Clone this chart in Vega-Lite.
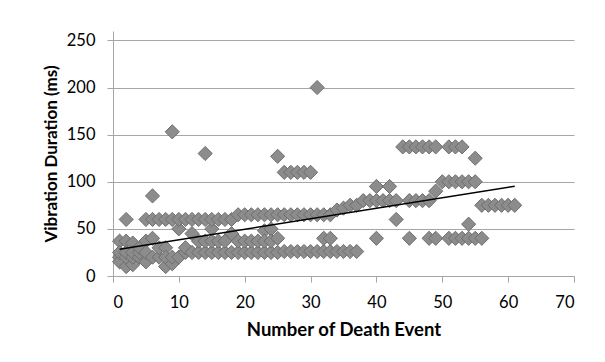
{
  "$schema": "https://vega.github.io/schema/vega-lite/v6.json",
  "autosize": {"type": "none"},
  "width": 461,
  "height": 245,
  "padding": {"left": 113, "top": 31, "right": 31, "bottom": 86},
  "background": "white",
  "config": {
    "view": {"stroke": null},
    "font": "Lato",
    "axis": {
      "labelFont": "Lato",
      "labelFontSize": 16.5,
      "labelColor": "#000000",
      "titleFont": "Lato",
      "titleFontWeight": "bold",
      "titleColor": "#000000",
      "domainColor": "#a6a6a6",
      "tickColor": "#a6a6a6",
      "gridColor": "#a6a6a6",
      "tickSize": 6
    }
  },
  "datasets": {
    "points": [
      {"event": 1, "duration": 20}, {"event": 1, "duration": 15}, {"event": 1, "duration": 37}, {"event": 1, "duration": 25},
      {"event": 2, "duration": 10}, {"event": 2, "duration": 20}, {"event": 2, "duration": 37}, {"event": 2, "duration": 60}, {"event": 2, "duration": 25},
      {"event": 3, "duration": 12}, {"event": 3, "duration": 20}, {"event": 3, "duration": 35}, {"event": 3, "duration": 25},
      {"event": 4, "duration": 20}, {"event": 4, "duration": 25}, {"event": 4, "duration": 30},
      {"event": 5, "duration": 15}, {"event": 5, "duration": 37}, {"event": 5, "duration": 60}, {"event": 5, "duration": 25},
      {"event": 6, "duration": 20}, {"event": 6, "duration": 40}, {"event": 6, "duration": 60}, {"event": 6, "duration": 85},
      {"event": 7, "duration": 20}, {"event": 7, "duration": 30}, {"event": 7, "duration": 60},
      {"event": 8, "duration": 10}, {"event": 8, "duration": 30}, {"event": 8, "duration": 60}, {"event": 8, "duration": 20},
      {"event": 9, "duration": 13}, {"event": 9, "duration": 20}, {"event": 9, "duration": 153}, {"event": 9, "duration": 60},
      {"event": 10, "duration": 20}, {"event": 10, "duration": 50}, {"event": 10, "duration": 60},
      {"event": 11, "duration": 25}, {"event": 11, "duration": 30}, {"event": 11, "duration": 60},
      {"event": 12, "duration": 25}, {"event": 12, "duration": 45}, {"event": 12, "duration": 60},
      {"event": 13, "duration": 25}, {"event": 13, "duration": 37}, {"event": 13, "duration": 60},
      {"event": 14, "duration": 25}, {"event": 14, "duration": 37}, {"event": 14, "duration": 130}, {"event": 14, "duration": 60},
      {"event": 15, "duration": 25}, {"event": 15, "duration": 50}, {"event": 15, "duration": 60}, {"event": 15, "duration": 37},
      {"event": 16, "duration": 25}, {"event": 16, "duration": 37}, {"event": 16, "duration": 60},
      {"event": 17, "duration": 25}, {"event": 17, "duration": 37}, {"event": 17, "duration": 60},
      {"event": 18, "duration": 25}, {"event": 18, "duration": 45}, {"event": 18, "duration": 60},
      {"event": 19, "duration": 25}, {"event": 19, "duration": 37}, {"event": 19, "duration": 65},
      {"event": 20, "duration": 25}, {"event": 20, "duration": 37}, {"event": 20, "duration": 65},
      {"event": 21, "duration": 25}, {"event": 21, "duration": 37}, {"event": 21, "duration": 65},
      {"event": 22, "duration": 25}, {"event": 22, "duration": 37}, {"event": 22, "duration": 65},
      {"event": 23, "duration": 25}, {"event": 23, "duration": 48}, {"event": 23, "duration": 65}, {"event": 23, "duration": 37},
      {"event": 24, "duration": 25}, {"event": 24, "duration": 50}, {"event": 24, "duration": 65}, {"event": 24, "duration": 37},
      {"event": 25, "duration": 25}, {"event": 25, "duration": 40}, {"event": 25, "duration": 65}, {"event": 25, "duration": 127},
      {"event": 26, "duration": 26}, {"event": 26, "duration": 65}, {"event": 26, "duration": 110},
      {"event": 27, "duration": 26}, {"event": 27, "duration": 65}, {"event": 27, "duration": 110},
      {"event": 28, "duration": 26}, {"event": 28, "duration": 65}, {"event": 28, "duration": 110},
      {"event": 29, "duration": 26}, {"event": 29, "duration": 65}, {"event": 29, "duration": 110},
      {"event": 30, "duration": 26}, {"event": 30, "duration": 65}, {"event": 30, "duration": 110},
      {"event": 31, "duration": 26}, {"event": 31, "duration": 65}, {"event": 31, "duration": 200},
      {"event": 32, "duration": 26}, {"event": 32, "duration": 40}, {"event": 32, "duration": 65},
      {"event": 33, "duration": 26}, {"event": 33, "duration": 40}, {"event": 33, "duration": 65},
      {"event": 34, "duration": 26}, {"event": 34, "duration": 70},
      {"event": 35, "duration": 26}, {"event": 35, "duration": 72},
      {"event": 36, "duration": 26}, {"event": 36, "duration": 75},
      {"event": 37, "duration": 26}, {"event": 37, "duration": 75},
      {"event": 38, "duration": 80},
      {"event": 39, "duration": 80},
      {"event": 40, "duration": 40}, {"event": 40, "duration": 80}, {"event": 40, "duration": 95},
      {"event": 41, "duration": 80},
      {"event": 42, "duration": 80}, {"event": 42, "duration": 95},
      {"event": 43, "duration": 60}, {"event": 43, "duration": 80},
      {"event": 44, "duration": 137},
      {"event": 45, "duration": 40}, {"event": 45, "duration": 80}, {"event": 45, "duration": 137},
      {"event": 46, "duration": 80}, {"event": 46, "duration": 137},
      {"event": 47, "duration": 80}, {"event": 47, "duration": 137},
      {"event": 48, "duration": 40}, {"event": 48, "duration": 80}, {"event": 48, "duration": 137},
      {"event": 49, "duration": 40}, {"event": 49, "duration": 90}, {"event": 49, "duration": 137},
      {"event": 50, "duration": 100},
      {"event": 51, "duration": 40}, {"event": 51, "duration": 100}, {"event": 51, "duration": 137},
      {"event": 52, "duration": 40}, {"event": 52, "duration": 100}, {"event": 52, "duration": 137},
      {"event": 53, "duration": 40}, {"event": 53, "duration": 100}, {"event": 53, "duration": 137},
      {"event": 54, "duration": 40}, {"event": 54, "duration": 55}, {"event": 54, "duration": 100},
      {"event": 55, "duration": 40}, {"event": 55, "duration": 100}, {"event": 55, "duration": 125},
      {"event": 56, "duration": 40}, {"event": 56, "duration": 75},
      {"event": 57, "duration": 75},
      {"event": 58, "duration": 75},
      {"event": 59, "duration": 75},
      {"event": 60, "duration": 75},
      {"event": 61, "duration": 75}
    ],
    "trend": [
      {"event": 1, "duration": 28.5},
      {"event": 61, "duration": 95.3}
    ]
  },
  "layer": [
    {
      "data": {"name": "points"},
      "mark": {"type": "point", "shape": "diamond", "filled": true, "size": 200, "fill": "#8c8c8c", "stroke": "#6e6e6e", "strokeWidth": 1, "opacity": 1},
      "encoding": {
        "x": {"field": "event", "type": "quantitative", "scale": {"domain": [0, 70]},
              "axis": {"title": "Number of Death Event", "titleFontSize": 18.5, "values": [0, 10, 20, 30, 40, 50, 60, 70], "grid": false, "labelPadding": 12, "titlePadding": 10}},
        "y": {"field": "duration", "type": "quantitative", "scale": {"domain": [0, 250]},
              "axis": {"title": "Vibration Duration (ms)", "titleFontSize": 17, "values": [0, 50, 100, 150, 200, 250], "grid": true, "labelPadding": 12, "titlePadding": 6}}
      }
    },
    {
      "data": {"name": "trend"},
      "mark": {"type": "line", "color": "#000000", "strokeWidth": 1.5},
      "encoding": {
        "x": {"field": "event", "type": "quantitative"},
        "y": {"field": "duration", "type": "quantitative"}
      }
    }
  ]
}
